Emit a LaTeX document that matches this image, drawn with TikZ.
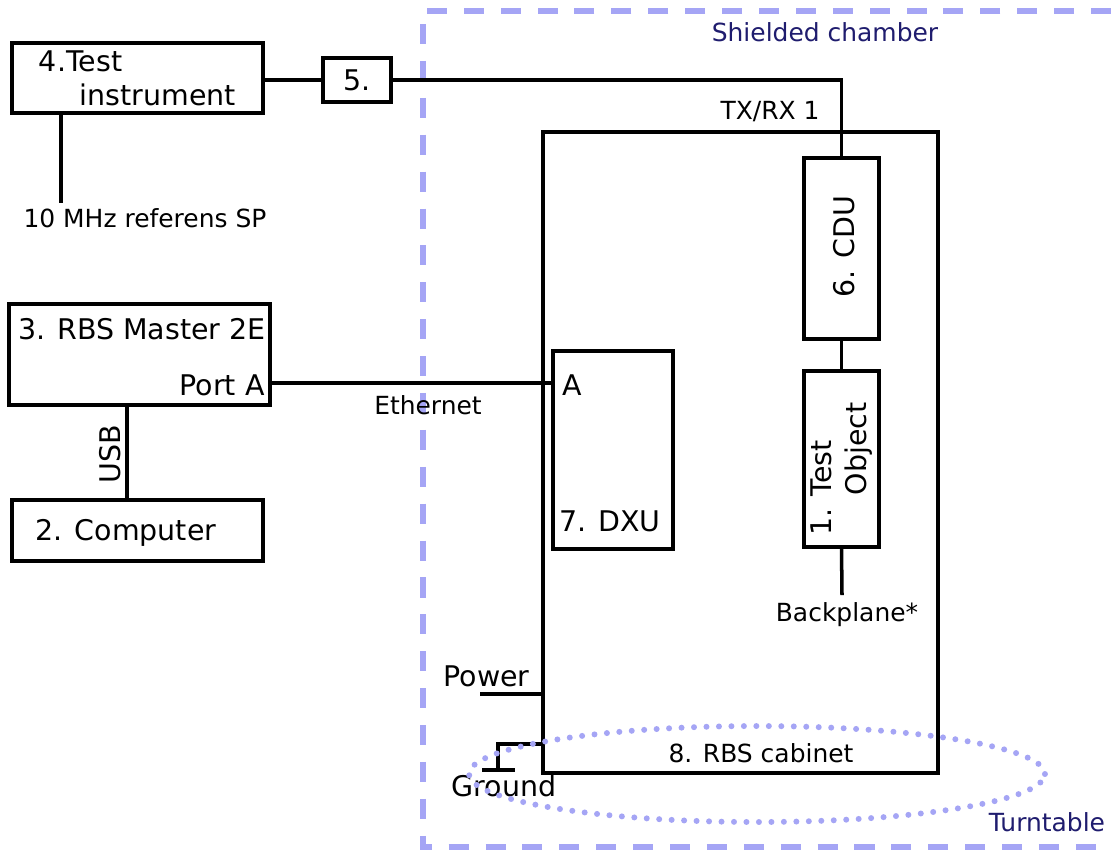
\documentclass[tikz,border=0pt]{standalone}
\usepackage{fontspec}
\setmainfont{DejaVu Sans}
\usetikzlibrary{positioning, calc}
\definecolor{chamberblue}{HTML}{A5A5F5}
\definecolor{labelnavy}{HTML}{1F1C6E}

\tikzset{
  unitbox/.style={draw, line width=2pt, inner sep=0pt, font=\fontsize{16.2}{19.5}\selectfont},
  boxtext/.style={inner sep=0pt, font=\fontsize{16.2}{19.5}\selectfont},
  tag/.style={inner sep=0pt, font=\fontsize{14.2}{17}\selectfont},
  wire/.style={line width=2pt},
  chamber/.style={draw=chamberblue, line width=3.2pt, dash pattern=on 11.4pt off 9.6pt},
  turntable/.style={draw=chamberblue, line width=3.4pt, line cap=round, dash pattern=on 0pt off 7.1pt},
}

\begin{document}
\begin{tikzpicture}[x=0.02cm, y=-0.02cm]
    \useasboundingbox[fill=white] (0,0) rectangle (1111,850);

    % shielded chamber
    \coordinate (chtr) at (1111,11);
    \coordinate (chtl) at (423,11);
    \coordinate (chbl) at (423,847);
    \coordinate (chbr) at (1111,847);
    \draw[chamber] (chtr) -- (chtl) -- (chbl) -- (chbr);
    \node[tag, text=labelnavy] (chamberlbl) at (825,32) {Shielded chamber};

    % outside the chamber
    \node[unitbox, minimum width=5.02cm, minimum height=1.4cm, align=left] (instr) at (137.5,78)
      {4.Test\\\hspace*{0.82cm}instrument};
    \node[unitbox, minimum width=1.36cm, minimum height=0.88cm] (att) at (357,80) {5.};
    \node[tag] (ref) at (145,218) {10 MHz referens SP};
    \coordinate (refend) at (61,203);

    \node[unitbox, minimum width=5.22cm, minimum height=2.02cm] (master) at (139.5,354.5) {};
    \node[boxtext] (mastertxt) at (142,329) {3. RBS Master 2E};
    \node[boxtext, anchor=east] (porta) at (265,385) {Port A};

    \node[unitbox, minimum width=5.02cm, minimum height=1.22cm] (pc) at (137.5,530.5) {};
    \node[boxtext] (pctxt) at (126,533) {2. Computer};
    \coordinate (usb) at (127,453);
    \node[boxtext, rotate=90] (usblbl) at (110,454) {USB};

    % cabinet and units
    \node[unitbox, minimum width=7.9cm, minimum height=12.82cm] (cab) at (740.5,452.5) {};
    \node[tag] (cablbl) at (761,753) {8. RBS cabinet};
    \node[tag] (txrx) at (770,112) {TX/RX 1};

    \node[unitbox, minimum width=1.5cm, minimum height=3.62cm] (cdu) at (841.5,248.5) {};
    \node[boxtext, rotate=90] (cdutxt) at (844,247) {6. CDU};

    \node[unitbox, minimum width=1.5cm, minimum height=3.52cm] (dut) at (841.5,459) {};
    \node[boxtext, rotate=90, align=left] (duttxt) at (841.5,469) {1. Test\\\hspace*{0.8cm}Object};
    \node[tag] (backplane) at (847,615) {Backplane*};
    \coordinate (bpend) at (842,595);

    \node[unitbox, minimum width=2.4cm, minimum height=3.96cm] (dxu) at (613,450) {};
    \node[boxtext, anchor=west] (dxua) at (562,385) {A};
    \node[boxtext] (dxutxt) at (610,521) {7. DXU};
    \coordinate (eth) at (553,383);
    \node[tag] (ethlbl) at (428,405) {Ethernet};

    \node[boxtext] (powerlbl) at (486.5,676) {Power};
    \coordinate (pwr) at (480,694);
    \node[boxtext] (groundlbl) at (504,786) {Ground};
    \coordinate (gndtop) at (498,744);
    \coordinate (gnd) at (498,770);

    % connections
    \draw[wire] (att.west -| instr.east) -- (att.west);
    \draw[wire] (att.east) -| (cdu.north);
    \draw[wire] (instr.south -| refend) -- (refend);
    \draw[wire] (eth -| master.east) -- (eth);
    \draw[wire] (master.south -| usb) -- (pc.north -| usb);
    \draw[wire] (cdu.south) -- (dut.north);
    \draw[wire] (dut.south) -- (bpend);
    \draw[wire] (pwr) -- (pwr -| cab.west);
    \draw[wire] (gndtop -| cab.west) -- (gndtop) -- (gnd);
    \draw[wire] ([xshift=-0.32cm]gnd) -- ([xshift=0.34cm]gnd);

    % turntable
    \draw[turntable] (757,774) ellipse [x radius=5.76cm, y radius=0.96cm];
    \node[tag, text=labelnavy] (turnlbl) at (1047,822) {Turntable};
\end{tikzpicture}
\end{document}
